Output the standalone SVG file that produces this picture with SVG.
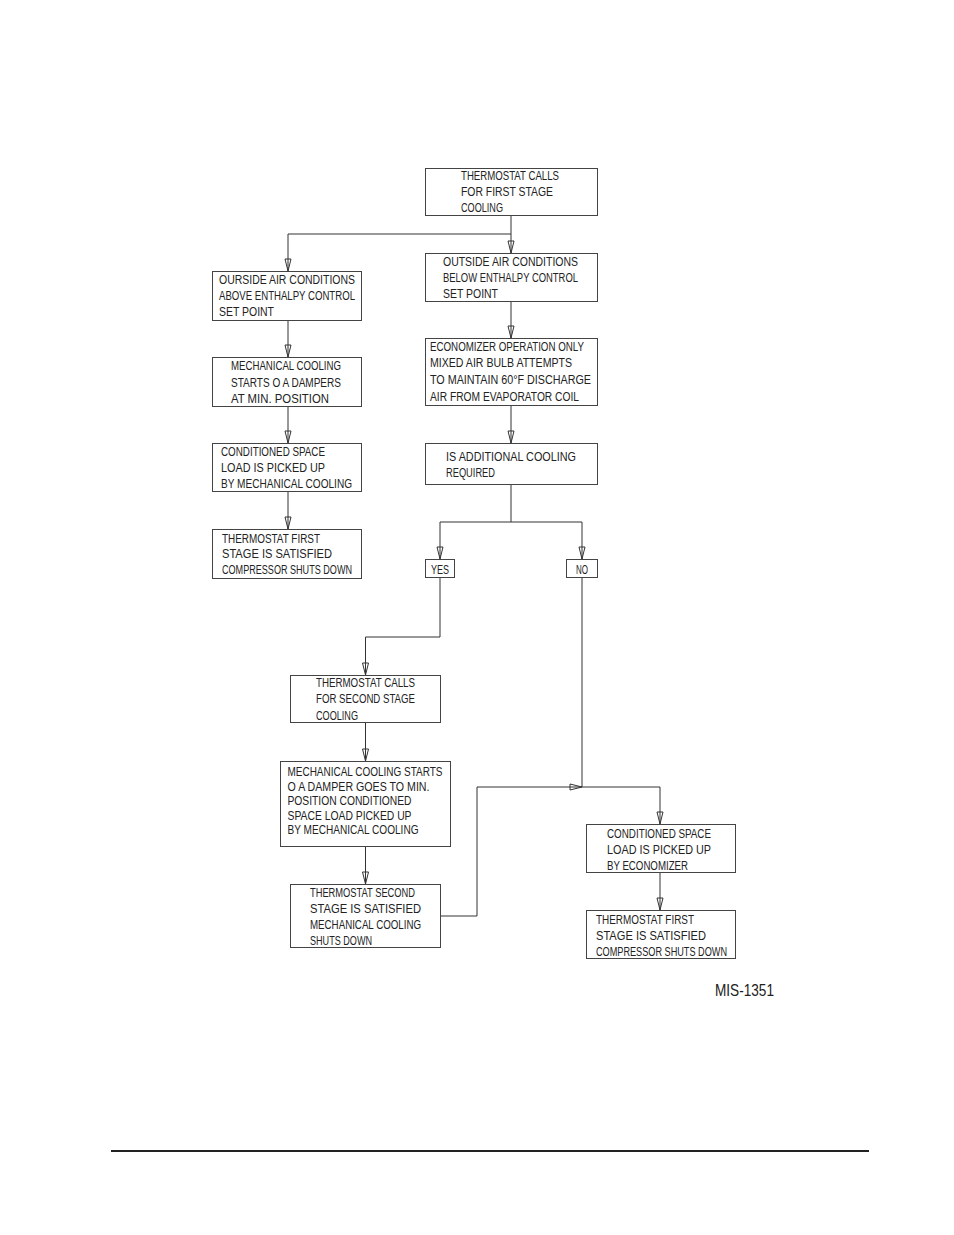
<svg xmlns="http://www.w3.org/2000/svg" width="954" height="1235" viewBox="0 0 954 1235">
<style>
.box{fill:#fff;stroke:#444;stroke-width:1}
.t{font-family:"Liberation Sans",Arial,sans-serif;font-size:12.5px;fill:#222}
.c{fill:none;stroke:#333;stroke-width:1}
.ref{font-family:"Liberation Sans",Arial,sans-serif;font-size:17px;fill:#222}
</style>
<defs>
<marker id="ah" markerUnits="userSpaceOnUse" markerWidth="16" markerHeight="10" refX="0" refY="0" viewBox="-14 -5 16 10" orient="auto" overflow="visible">
<path d="M0,0 L-12,-3 L-12,3 Z" fill="none" stroke="#333" stroke-width="1"/>
</marker>
</defs>
<rect width="954" height="1235" fill="#fff"/>
<g id="connectors">
<path class="c" d="M511,215 V253" marker-end="url(#ah)"/>
<path class="c" d="M511,234 H288 V271" marker-end="url(#ah)"/>
<path class="c" d="M511,301 V338" marker-end="url(#ah)"/>
<path class="c" d="M511,406 V443" marker-end="url(#ah)"/>
<path class="c" d="M511,485 V522 M440,522 H582"/>
<path class="c" d="M440,522 V559" marker-end="url(#ah)"/>
<path class="c" d="M582,522 V559" marker-end="url(#ah)"/>
<path class="c" d="M288,320 V357" marker-end="url(#ah)"/>
<path class="c" d="M288,406 V443" marker-end="url(#ah)"/>
<path class="c" d="M288,492 V529" marker-end="url(#ah)"/>
<path class="c" d="M440,578 V637 H365.5 V675" marker-end="url(#ah)"/>
<path class="c" d="M365.5,723 V761" marker-end="url(#ah)"/>
<path class="c" d="M365.5,847 V884" marker-end="url(#ah)"/>
<path class="c" d="M441,916 H477 V787 H582" marker-end="url(#ah)"/>
<path class="c" d="M582,578 V787"/>
<path class="c" d="M582,787 H660 V824" marker-end="url(#ah)"/>
<path class="c" d="M660,873 V910" marker-end="url(#ah)"/>
</g>
<g id="n1">
<rect class="box" x="425.5" y="168.5" width="172" height="47"/>
<text class="t" x="461" y="180" textLength="98" lengthAdjust="spacingAndGlyphs">THERMOSTAT CALLS</text>
<text class="t" x="461" y="196" textLength="92" lengthAdjust="spacingAndGlyphs">FOR FIRST STAGE</text>
<text class="t" x="461" y="212" textLength="42" lengthAdjust="spacingAndGlyphs">COOLING</text>
</g>
<g id="n2">
<rect class="box" x="425.5" y="253.5" width="172" height="48"/>
<text class="t" x="443" y="266" textLength="135" lengthAdjust="spacingAndGlyphs">OUTSIDE AIR CONDITIONS</text>
<text class="t" x="443" y="282" textLength="135" lengthAdjust="spacingAndGlyphs">BELOW ENTHALPY CONTROL</text>
<text class="t" x="443" y="298" textLength="55" lengthAdjust="spacingAndGlyphs">SET POINT</text>
</g>
<g id="n3">
<rect class="box" x="212.5" y="271.5" width="149" height="49"/>
<text class="t" x="219" y="284" textLength="136" lengthAdjust="spacingAndGlyphs">OURSIDE AIR CONDITIONS</text>
<text class="t" x="219" y="300" textLength="136" lengthAdjust="spacingAndGlyphs">ABOVE ENTHALPY CONTROL</text>
<text class="t" x="219" y="316" textLength="55" lengthAdjust="spacingAndGlyphs">SET POINT</text>
</g>
<g id="n4">
<rect class="box" x="212.5" y="357.5" width="149" height="49"/>
<text class="t" x="231" y="370" textLength="110" lengthAdjust="spacingAndGlyphs">MECHANICAL COOLING</text>
<text class="t" x="231" y="386.5" textLength="110" lengthAdjust="spacingAndGlyphs">STARTS O A DAMPERS</text>
<text class="t" x="231" y="403" textLength="98" lengthAdjust="spacingAndGlyphs">AT MIN. POSITION</text>
</g>
<g id="n5">
<rect class="box" x="212.5" y="443.5" width="149" height="48"/>
<text class="t" x="221" y="455.5" textLength="104" lengthAdjust="spacingAndGlyphs">CONDITIONED SPACE</text>
<text class="t" x="221" y="471.5" textLength="104" lengthAdjust="spacingAndGlyphs">LOAD IS PICKED UP</text>
<text class="t" x="221" y="487.5" textLength="131" lengthAdjust="spacingAndGlyphs">BY MECHANICAL COOLING</text>
</g>
<g id="n6">
<rect class="box" x="212.5" y="529.5" width="149" height="49"/>
<text class="t" x="222" y="542.5" textLength="98" lengthAdjust="spacingAndGlyphs">THERMOSTAT FIRST</text>
<text class="t" x="222" y="558" textLength="110" lengthAdjust="spacingAndGlyphs">STAGE IS SATISFIED</text>
<text class="t" x="222" y="574" textLength="130" lengthAdjust="spacingAndGlyphs">COMPRESSOR SHUTS DOWN</text>
</g>
<g id="n7">
<rect class="box" x="425.5" y="338.5" width="172" height="67"/>
<text class="t" x="430" y="350.5" textLength="154" lengthAdjust="spacingAndGlyphs">ECONOMIZER OPERATION ONLY</text>
<text class="t" x="430" y="367" textLength="142" lengthAdjust="spacingAndGlyphs">MIXED AIR BULB ATTEMPTS</text>
<text class="t" x="430" y="384" textLength="161" lengthAdjust="spacingAndGlyphs">TO MAINTAIN 60°F DISCHARGE</text>
<text class="t" x="430" y="400.5" textLength="149" lengthAdjust="spacingAndGlyphs">AIR FROM EVAPORATOR COIL</text>
</g>
<g id="n8">
<rect class="box" x="425.5" y="443.5" width="172" height="41"/>
<text class="t" x="446" y="460.5" textLength="130" lengthAdjust="spacingAndGlyphs">IS ADDITIONAL COOLING</text>
<text class="t" x="446" y="476.5" textLength="49" lengthAdjust="spacingAndGlyphs">REQUIRED</text>
</g>
<g id="n9">
<rect class="box" x="425.5" y="559.5" width="29" height="18"/>
<text class="t" x="440" y="574" text-anchor="middle" textLength="18" lengthAdjust="spacingAndGlyphs">YES</text>
</g>
<g id="n10">
<rect class="box" x="566.5" y="559.5" width="31" height="18"/>
<text class="t" x="582" y="574" text-anchor="middle" textLength="12" lengthAdjust="spacingAndGlyphs">NO</text>
</g>
<g id="n11">
<rect class="box" x="290.5" y="675.5" width="150" height="47"/>
<text class="t" x="316" y="687" textLength="99" lengthAdjust="spacingAndGlyphs">THERMOSTAT CALLS</text>
<text class="t" x="316" y="703" textLength="99" lengthAdjust="spacingAndGlyphs">FOR SECOND STAGE</text>
<text class="t" x="316" y="719.5" textLength="42" lengthAdjust="spacingAndGlyphs">COOLING</text>
</g>
<g id="n12">
<rect class="box" x="280.5" y="761.5" width="170" height="85"/>
<text class="t" x="287.5" y="776" textLength="155" lengthAdjust="spacingAndGlyphs">MECHANICAL COOLING STARTS</text>
<text class="t" x="287.5" y="790.5" textLength="142" lengthAdjust="spacingAndGlyphs">O A DAMPER GOES TO MIN.</text>
<text class="t" x="287.5" y="805" textLength="124" lengthAdjust="spacingAndGlyphs">POSITION CONDITIONED</text>
<text class="t" x="287.5" y="819.5" textLength="124" lengthAdjust="spacingAndGlyphs">SPACE LOAD PICKED UP</text>
<text class="t" x="287.5" y="834" textLength="131" lengthAdjust="spacingAndGlyphs">BY MECHANICAL COOLING</text>
</g>
<g id="n13">
<rect class="box" x="290.5" y="884.5" width="150" height="63"/>
<text class="t" x="310" y="897" textLength="105" lengthAdjust="spacingAndGlyphs">THERMOSTAT SECOND</text>
<text class="t" x="310" y="913" textLength="111" lengthAdjust="spacingAndGlyphs">STAGE IS SATISFIED</text>
<text class="t" x="310" y="929" textLength="111" lengthAdjust="spacingAndGlyphs">MECHANICAL COOLING</text>
<text class="t" x="310" y="945" textLength="62" lengthAdjust="spacingAndGlyphs">SHUTS DOWN</text>
</g>
<g id="n14">
<rect class="box" x="586.5" y="824.5" width="149" height="48"/>
<text class="t" x="607" y="838" textLength="104" lengthAdjust="spacingAndGlyphs">CONDITIONED SPACE</text>
<text class="t" x="607" y="854" textLength="104" lengthAdjust="spacingAndGlyphs">LOAD IS PICKED UP</text>
<text class="t" x="607" y="870" textLength="81" lengthAdjust="spacingAndGlyphs">BY ECONOMIZER</text>
</g>
<g id="n15">
<rect class="box" x="586.5" y="910.5" width="149" height="48"/>
<text class="t" x="596" y="924" textLength="98" lengthAdjust="spacingAndGlyphs">THERMOSTAT FIRST</text>
<text class="t" x="596" y="940" textLength="110" lengthAdjust="spacingAndGlyphs">STAGE IS SATISFIED</text>
<text class="t" x="596" y="956" textLength="131" lengthAdjust="spacingAndGlyphs">COMPRESSOR SHUTS DOWN</text>
</g>
<text class="ref" x="715" y="996" textLength="59" lengthAdjust="spacingAndGlyphs">MIS-1351</text>
<line x1="111" y1="1151" x2="869" y2="1151" stroke="#222" stroke-width="2"/>
</svg>
